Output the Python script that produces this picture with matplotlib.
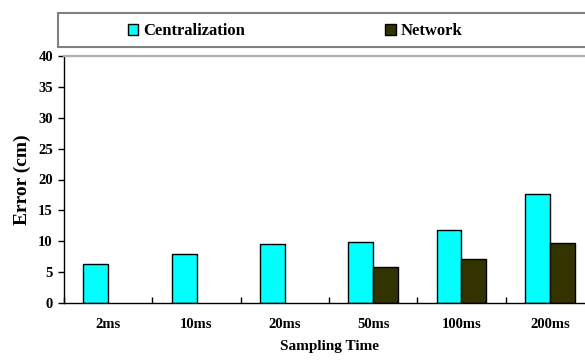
import matplotlib
matplotlib.use("Agg")
import matplotlib.pyplot as plt
from matplotlib.patches import Rectangle
import numpy as np

categories = ["2ms", "10ms", "20ms", "50ms", "100ms", "200ms"]
centralization = [6.3, 8.0, 9.6, 9.9, 11.8, 17.7]
network = [np.nan, np.nan, np.nan, 5.8, 7.1, 9.7]
series_names = ["Centralization", "Network"]
yticks = [0, 5, 10, 15, 20, 25, 30, 35, 40]

plt.rcParams['font.family'] = ['Liberation Serif', 'DejaVu Serif']
plt.rcParams['font.weight'] = 'bold'

W, H = 585, 360
fig = plt.figure(figsize=(W / 100, H / 100), dpi=100)
ax = fig.add_axes([64 / W, 1 - 303 / H, 530 / W, 247 / H])

x = np.arange(len(categories))
bw = 0.283
b1 = ax.bar(x - bw / 2, centralization, bw, color="#00FFFF", edgecolor="black", linewidth=1.0)
b2 = ax.bar(x + bw / 2, network, bw, color="#333300", edgecolor="black", linewidth=1.0)

ax.set_xlim(-0.5, len(categories) - 0.5)
ax.set_ylim(0, 40)
ax.set_yticks(yticks)
ax.set_yticklabels([str(v) for v in yticks], fontsize=10.5, fontweight='bold')
ax.set_xticks(x)
ax.set_xticklabels(categories, fontsize=10.5, fontweight='bold')
ax.tick_params(axis='x', length=0, pad=11)
ax.tick_params(axis='y', length=4, width=1, direction='out', pad=4)
ax.set_xticks(np.arange(len(categories) + 1) - 0.5, minor=True)
ax.tick_params(axis='x', which='minor', direction='in', length=4, width=1)

for s in ['left', 'bottom']:
    ax.spines[s].set_linewidth(1.0)
    ax.spines[s].set_color('black')
ax.spines['top'].set_color('#b0b0b0')
ax.spines['top'].set_linewidth(1.6)
ax.spines['right'].set_visible(False)

ax.set_ylabel("Error (cm)", fontsize=14, fontweight='bold', labelpad=5)
ax.set_xlabel("Sampling Time", fontsize=11, fontweight='bold', labelpad=6)

# legend frame
fig.patches.append(Rectangle((58 / W, 1 - 47 / H), 560 / W, 34 / H, transform=fig.transFigure,
                             facecolor='white', edgecolor='#808080', linewidth=1.5, zorder=0))
leg = fig.legend([b1, b2], series_names, ncol=2, loc='center left',
                 bbox_to_anchor=(128 / W, 1 - 31 / H), frameon=False,
                 prop={'size': 12, 'weight': 'bold'}, handlelength=0.62, handleheight=0.62,
                 handletextpad=0.3, columnspacing=8.4, borderpad=0, borderaxespad=0)

fig.savefig("out.png", dpi=100)
